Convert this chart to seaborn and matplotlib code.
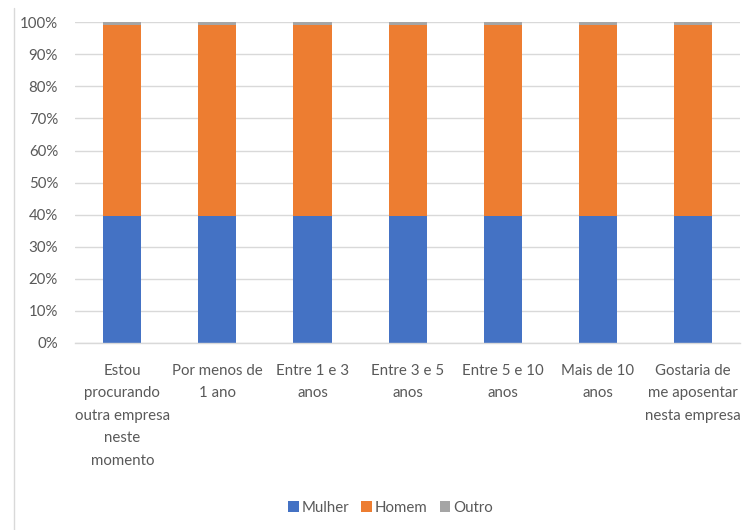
import matplotlib
matplotlib.use("Agg")
import matplotlib.pyplot as plt
from matplotlib.lines import Line2D
from matplotlib.patches import Patch
from matplotlib.ticker import PercentFormatter
import seaborn as sns
import pandas as pd

categories = [
    "Estou\nprocurando\noutra empresa\nneste\nmomento",
    "Por menos de\n1 ano",
    "Entre 1 e 3\nanos",
    "Entre 3 e 5\nanos",
    "Entre 5 e 10\nanos",
    "Mais de 10\nanos",
    "Gostaria de\nme aposentar\nnesta empresa",
]
mulher = [39.6, 39.6, 39.6, 39.6, 39.6, 39.6, 39.6]
homem = [59.7, 59.7, 59.7, 59.7, 59.7, 59.7, 59.7]
outro = [0.7, 0.7, 0.7, 0.7, 0.7, 0.7, 0.7]
y_ticks = [0, 10, 20, 30, 40, 50, 60, 70, 80, 90, 100]

colors = {"Mulher": "#4472C4", "Homem": "#ED7D31", "Outro": "#A5A5A5"}
text_color = "#595959"
grid_color = "#D9D9D9"

sns.set_theme(style="white")
plt.rcParams["font.family"] = ["Lato", "DejaVu Sans"]

df = pd.DataFrame({"cat": categories, "Mulher": mulher, "Homem": homem, "Outro": outro})
tot = df[["Mulher", "Homem", "Outro"]].sum(axis=1)
df["p_m"] = df["Mulher"] / tot * 100
df["p_h"] = df["Homem"] / tot * 100
df["p_o"] = df["Outro"] / tot * 100

fig = plt.figure(figsize=(7.51, 5.30), dpi=100)
ax = fig.add_axes([0.0995, 0.353, 0.8865, 0.605])

# stacked 100% bars: draw cumulative totals from the top segment down
bar_kw = dict(width=0.4, saturation=1, ax=ax, zorder=2, linewidth=0, edgecolor="none")
sns.barplot(data=df, x="cat", y=df["p_m"] + df["p_h"] + df["p_o"], color=colors["Outro"], **bar_kw)
sns.barplot(data=df, x="cat", y=df["p_m"] + df["p_h"], color=colors["Homem"], **bar_kw)
sns.barplot(data=df, x="cat", y=df["p_m"], color=colors["Mulher"], **bar_kw)

ax.set_ylim(0, 100)
ax.set_xlim(-0.5, len(categories) - 0.5)
ax.set_yticks(y_ticks)
ax.yaxis.set_major_formatter(PercentFormatter(decimals=0))
ax.yaxis.grid(True, color=grid_color, linewidth=1, zorder=0)
ax.set_axisbelow(True)
for s in ["top", "right", "left"]:
    ax.spines[s].set_visible(False)
ax.spines["bottom"].set_color(grid_color)
ax.spines["bottom"].set_linewidth(1)
ax.set_xlabel("")
ax.set_ylabel("")
ax.tick_params(axis="both", length=0, colors=text_color, labelsize=10.8)
ax.tick_params(axis="x", pad=15)
ax.tick_params(axis="y", pad=12)
for lbl in ax.get_xticklabels():
    lbl.set_linespacing(1.78)
    lbl.set_va("top")

handles = [Patch(facecolor=colors[k], edgecolor="none") for k in ["Mulher", "Homem", "Outro"]]
leg = fig.legend(handles, ["Mulher", "Homem", "Outro"], loc="center", bbox_to_anchor=(0.52, 0.042),
                 ncol=3, frameon=False, fontsize=10.8, handlelength=0.7, handleheight=0.7,
                 handletextpad=0.2, columnspacing=0.8)
for t in leg.get_texts():
    t.set_color(text_color)

# chart border line on the left
fig.add_artist(Line2D([0.019, 0.019], [0.0, 0.985], color=grid_color, linewidth=1))

fig.savefig("out.png", dpi=100)
